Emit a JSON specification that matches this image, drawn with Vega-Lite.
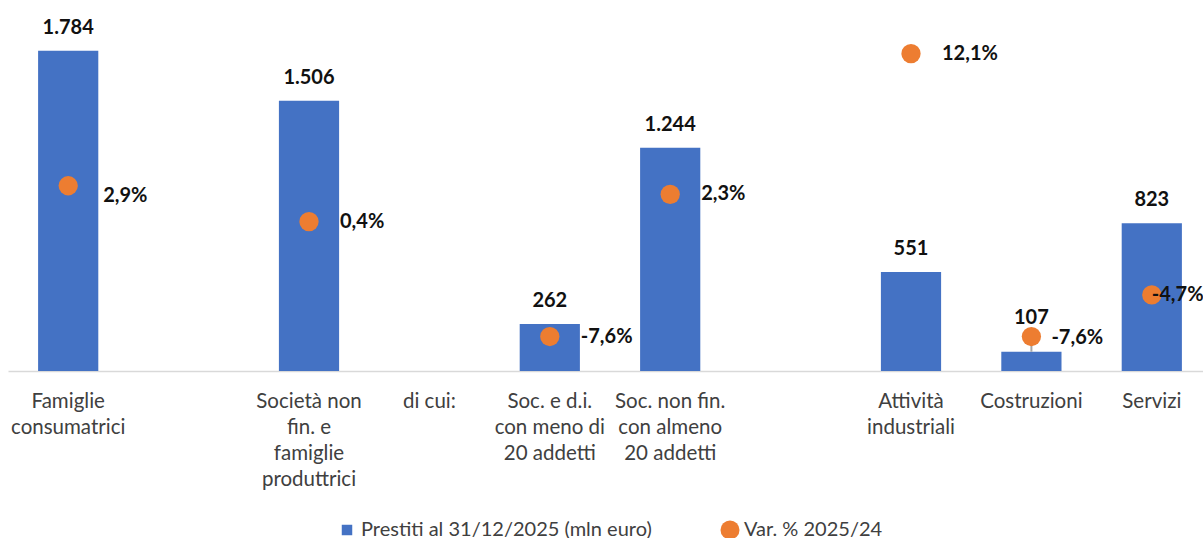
{
  "$schema": "https://vega.github.io/schema/vega-lite/v6.json",
  "width": 1204,
  "height": 359,
  "padding": {"left": 8, "top": 12, "right": 0, "bottom": 4},
  "background": "white",
  "config": {
    "view": {"stroke": null},
    "font": "Lato",
    "locale": {"number": {"decimal": ",", "thousands": ".", "grouping": [3], "currency": ["", "%"], "minus": "-"}},
    "legend": {"layout": {"bottom": {"anchor": "middle"}}}
  },
  "data": {
    "values": [
      {"cat": "Famiglie|consumatrici", "prestiti": 1784, "var": 2.9},
      {"cat": "Società non|fin. e|famiglie|produttrici", "prestiti": 1506, "var": 0.4},
      {"cat": "Soc. e d.i.|con meno di|20 addetti", "prestiti": 262, "var": -7.6},
      {"cat": "Soc. non fin.|con almeno|20 addetti", "prestiti": 1244, "var": 2.3},
      {"cat": "Attività|industriali", "prestiti": 551, "var": 12.1},
      {"cat": "Costruzioni", "prestiti": 107, "var": -7.6},
      {"cat": "Servizi", "prestiti": 823, "var": -4.7}
    ]
  },
  "encoding": {
    "x": {
      "field": "cat",
      "type": "nominal",
      "sort": null,
      "scale": {
        "domain": ["Famiglie|consumatrici", "_a", "Società non|fin. e|famiglie|produttrici", "di cui:", "Soc. e d.i.|con meno di|20 addetti", "Soc. non fin.|con almeno|20 addetti", "_b", "Attività|industriali", "Costruzioni", "Servizi"],
        "paddingInner": 0.5,
        "paddingOuter": 0.25
      },
      "axis": {
        "title": null,
        "labelAngle": 0,
        "labelFont": "Lato",
        "labelFontSize": 20.5,
        "labelColor": "#404040",
        "labelLineHeight": 26,
        "labelPadding": 20,
        "labelLimit": 0,
        "labelOverlap": false,
        "ticks": false,
        "grid": false,
        "domainColor": "#D9D9D9",
        "domainWidth": 1.5,
        "labelExpr": "indexof(datum.label, '_') == 0 ? '' : split(datum.label, '|')"
      }
    }
  },
  "layer": [
    {
      "encoding": {
        "y": {"field": "prestiti", "type": "quantitative", "scale": {"domain": [0, 2000], "nice": false}, "axis": null}
      },
      "layer": [
        {
          "mark": {"type": "bar"},
          "encoding": {
            "color": {
              "datum": "Prestiti al 31/12/2025 (mln euro)",
              "scale": {"domain": ["Prestiti al 31/12/2025 (mln euro)", "Var. % 2025/24"], "range": ["#4472C4", "#ED7D31"]},
              "legend": {
                "orient": "bottom",
                "direction": "horizontal",
                "title": null,
                "labelFont": "Lato",
                "labelFontSize": 20,
                "labelColor": "#404040",
                "labelLimit": 0,
                "symbolStrokeWidth": 0,
                "columnPadding": 68,
                "labelOffset": 4,
                "offset": 30,
                "symbolType": "square",
                "encode": {
                  "symbols": {
                    "update": {
                      "shape": {"signal": "datum.value === 'Var. % 2025/24' ? 'circle' : 'square'"},
                      "size": {"signal": "datum.value === 'Var. % 2025/24' ? 361 : 110"}
                    }
                  }
                }
              }
            }
          }
        },
        {
          "transform": [{"filter": "datum.cat !== 'Costruzioni'"}],
          "mark": {"type": "text", "baseline": "alphabetic", "dy": -17, "fontSize": 20, "fontWeight": "bold", "color": "#111111", "font": "Lato"},
          "encoding": {"text": {"field": "prestiti", "type": "quantitative", "format": ",d"}}
        },
        {
          "transform": [{"filter": "datum.cat === 'Costruzioni'"}],
          "mark": {"type": "text", "baseline": "alphabetic", "dy": -28, "fontSize": 20, "fontWeight": "bold", "color": "#111111", "font": "Lato"},
          "encoding": {"text": {"field": "prestiti", "type": "quantitative", "format": ",d"}}
        }
      ]
    },
    {
      "encoding": {
        "y": {"field": "var", "type": "quantitative", "scale": {"domain": [-10, 15], "nice": false, "zero": false}, "axis": null}
      },
      "layer": [
        {
          "transform": [{"filter": "datum.cat === 'Costruzioni'"}],
          "mark": {"type": "rule", "color": "#A6A6A6", "strokeWidth": 2},
          "encoding": {"y2": {"datum": -8.66}}
        },
        {
          "mark": {"type": "point", "filled": true, "opacity": 1, "size": 372, "shape": "circle"},
          "encoding": {"color": {"datum": "Var. % 2025/24"}}
        },
        {
          "transform": [{"filter": "indexof(['Società non|fin. e|famiglie|produttrici', 'Soc. e d.i.|con meno di|20 addetti', 'Soc. non fin.|con almeno|20 addetti', 'Attività|industriali'], datum.cat) >= 0"}],
          "mark": {"type": "text", "align": "left", "baseline": "middle", "dx": 31, "fontSize": 20, "fontWeight": "bold", "color": "#111111", "font": "Lato"},
          "encoding": {"text": {"field": "var", "type": "quantitative", "format": "$.1f"}}
        },
        {
          "transform": [{"filter": "datum.cat === 'Famiglie|consumatrici'"}],
          "mark": {"type": "text", "align": "left", "baseline": "middle", "dx": 35, "dy": 10, "fontSize": 20, "fontWeight": "bold", "color": "#111111", "font": "Lato"},
          "encoding": {"text": {"field": "var", "type": "quantitative", "format": "$.1f"}}
        },
        {
          "transform": [{"filter": "datum.cat === 'Costruzioni'"}],
          "mark": {"type": "text", "align": "left", "baseline": "middle", "dx": 20, "dy": 1, "fontSize": 20, "fontWeight": "bold", "color": "#111111", "font": "Lato"},
          "encoding": {"text": {"field": "var", "type": "quantitative", "format": "$.1f"}}
        },
        {
          "transform": [{"filter": "datum.cat === 'Servizi'"}],
          "mark": {"type": "text", "align": "left", "baseline": "middle", "dx": 0, "fontSize": 20, "fontWeight": "bold", "color": "#111111", "font": "Lato"},
          "encoding": {"text": {"field": "var", "type": "quantitative", "format": "$.1f"}}
        }
      ]
    }
  ],
  "resolve": {"scale": {"y": "independent"}}
}
